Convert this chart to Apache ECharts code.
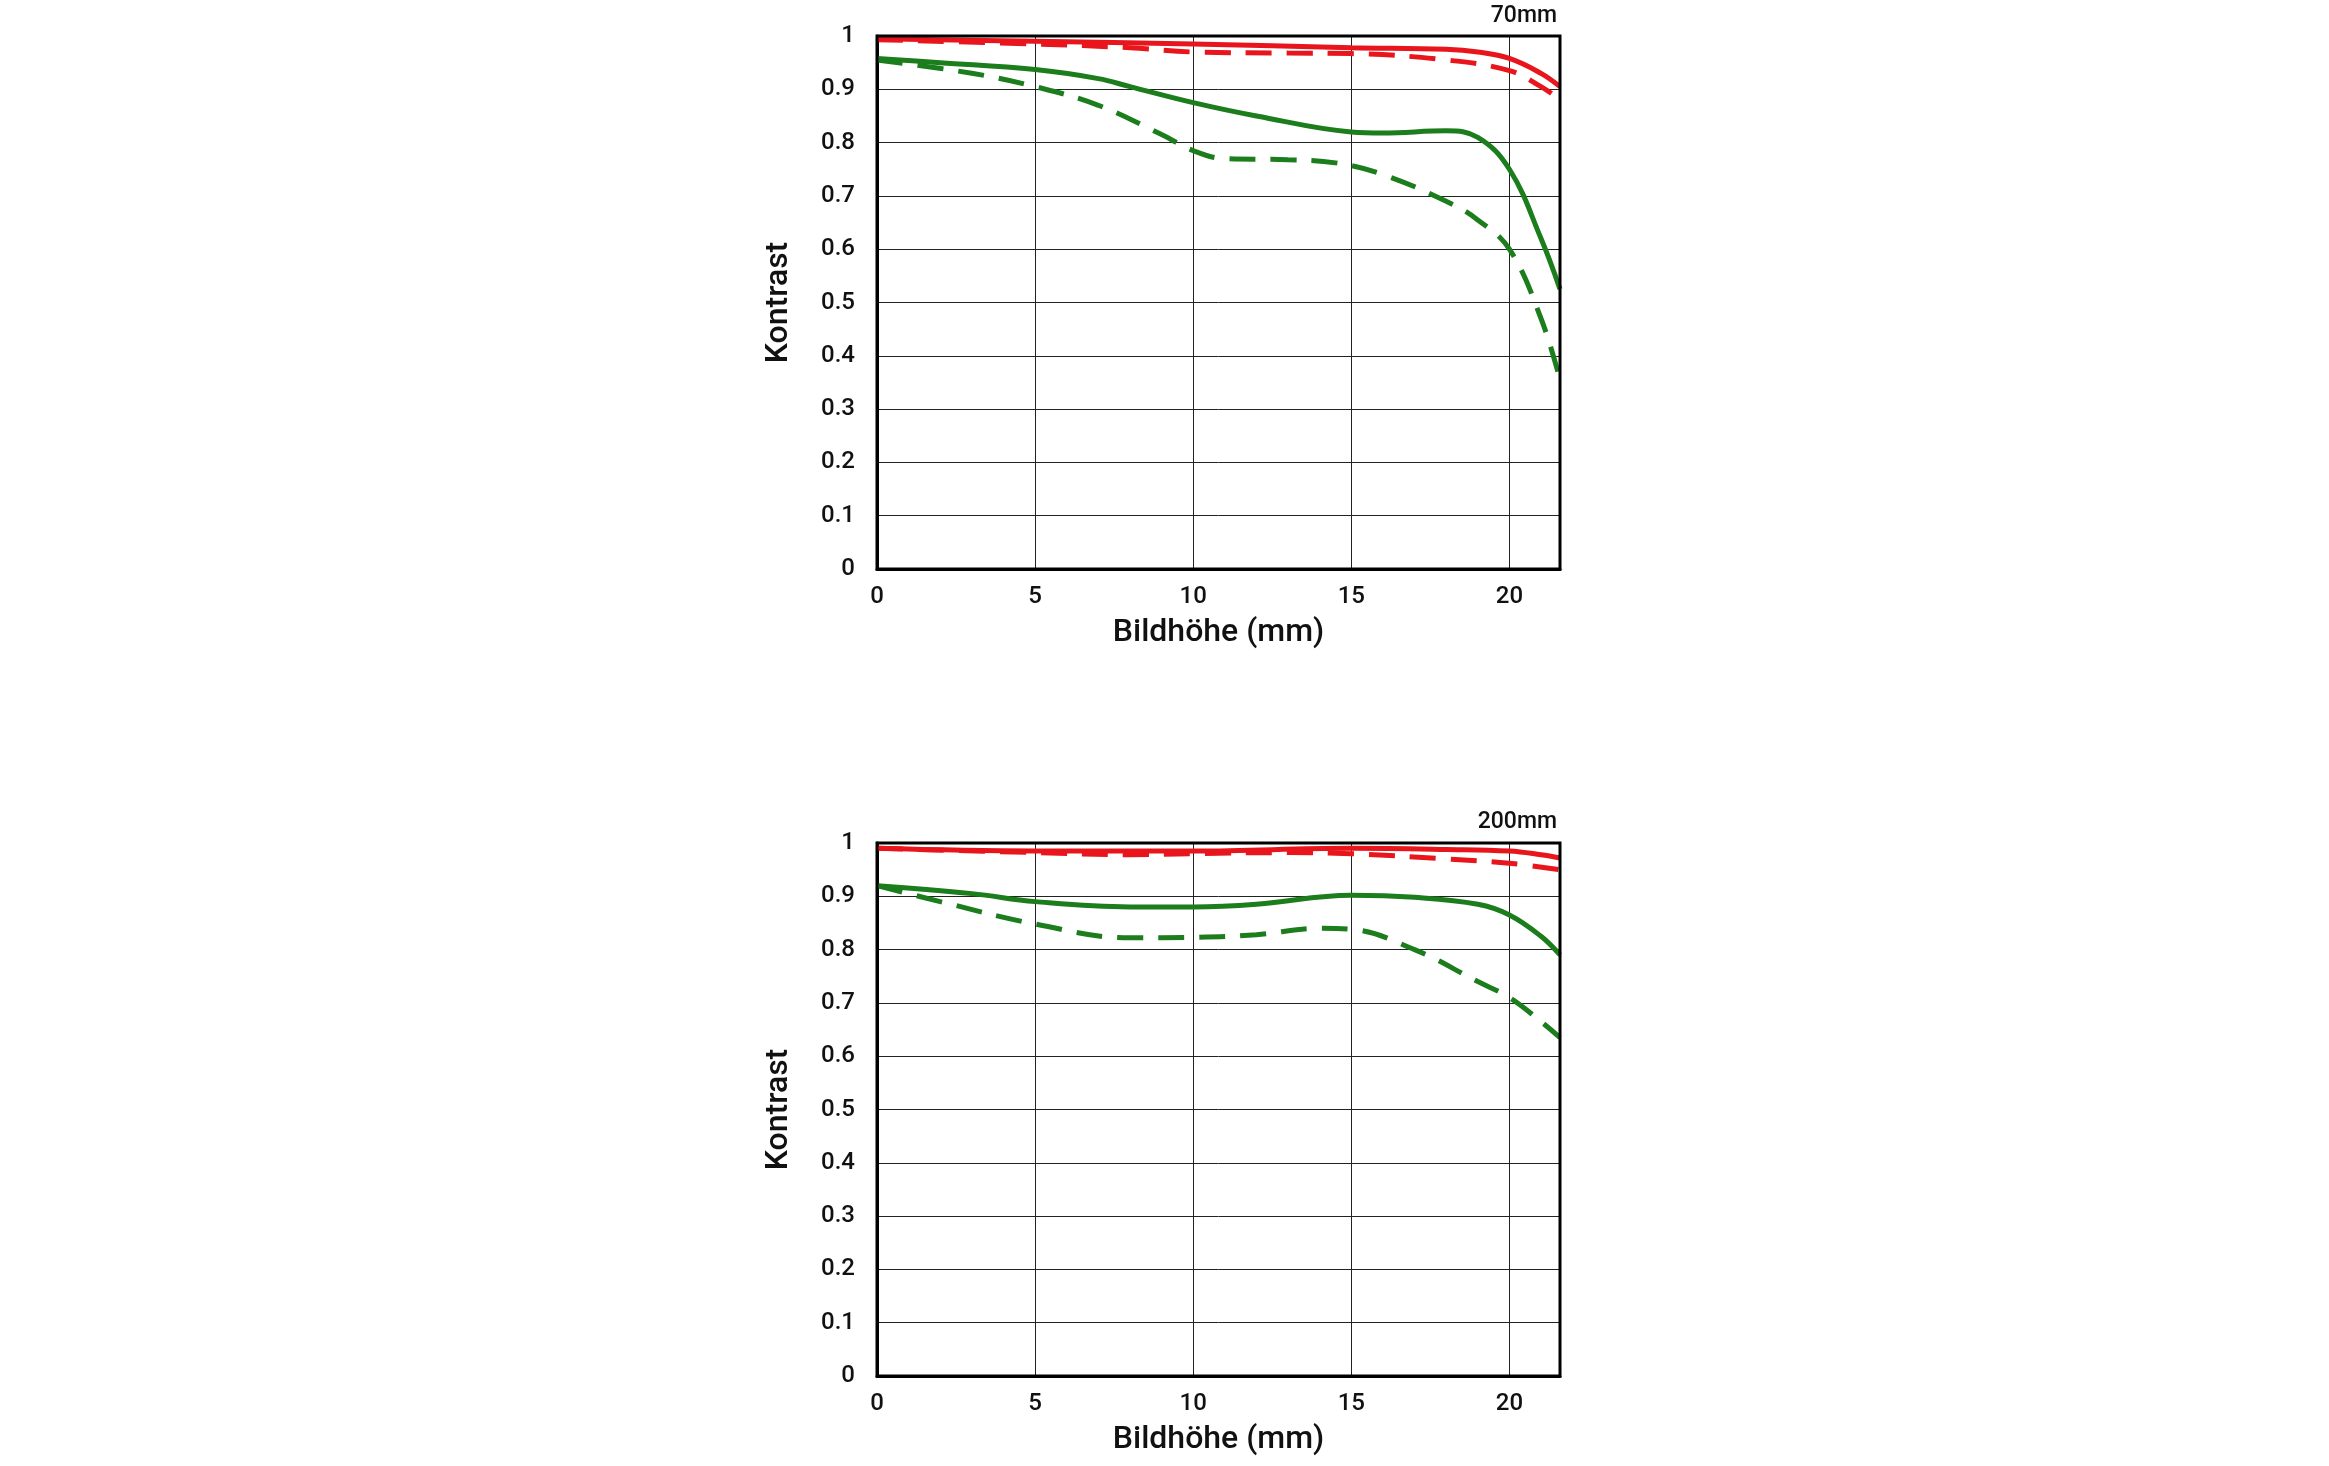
<!DOCTYPE html>
<html><head><meta charset="utf-8">
<script src="https://cdn.jsdelivr.net/npm/echarts@6/dist/echarts.min.js"></script>
<style>html,body{margin:0;padding:0;background:#fff}#c{width:2329px;height:1466px}</style>
</head><body><div id="c"></div>
<script>
const titles = ['70mm', '200mm'];
const yTicks = [0,0.1,0.2,0.3,0.4,0.5,0.6,0.7,0.8,0.9,1];
const xTicks = [0,5,10,15,20];
// 70mm
const r70s = [[0,0.995],[5,0.99],[10,0.985],[15,0.978],[18,0.975],[19,0.97],[20,0.958],[21,0.93],[21.6,0.905]];
const r70d = [[0,0.993],[5,0.985],[8,0.978],[10,0.97],[13,0.968],[15,0.967],[18,0.955],[20,0.935],[21,0.905],[21.6,0.88]];
const g70s = [[0,0.958],[2,0.95],[5,0.937],[7,0.92],[8,0.905],[10,0.875],[12,0.85],[15,0.82],[16,0.818],[18,0.822],[19,0.81],[20,0.75],[21,0.62],[21.6,0.525]];
const g70d = [[0,0.955],[3,0.93],[5,0.905],[7,0.87],[9,0.815],[10,0.785],[11,0.77],[13,0.768],[14.5,0.762],[16,0.74],[18,0.69],[19,0.655],[20,0.6],[21,0.47],[21.6,0.355]];
// 200mm
const r200s = [[0,0.99],[5,0.985],[10,0.985],[15,0.99],[18,0.988],[20,0.985],[21,0.978],[21.6,0.972]];
const r200d = [[0,0.99],[5,0.982],[8,0.978],[10,0.98],[13,0.982],[15,0.98],[18,0.97],[20,0.962],[21.6,0.95]];
const g200s = [[0,0.92],[3,0.905],[5,0.89],[8,0.88],[10,0.88],[12,0.885],[15,0.902],[17,0.898],[19,0.885],[20,0.865],[21,0.825],[21.6,0.79]];
const g200d = [[0,0.92],[2,0.89],[5,0.848],[8,0.822],[10,0.823],[12,0.828],[14,0.84],[15,0.838],[17,0.8],[19,0.74],[20,0.71],[21,0.665],[21.6,0.635]];

const RED='#e8161c', GREEN='#1b7d1b';
const font='Roboto';
const grids=[{left:877,width:683,top:36,height:533},{left:877,width:683,top:843,height:533}];
function xa(i){return {gridIndex:i,type:'value',min:0,max:21.6,interval:5,
  name:'Bildhöhe (mm)',nameLocation:'middle',nameGap:48,nameTextStyle:{fontSize:32,color:'#111',fontFamily:font,fontWeight:500},
  axisLine:{lineStyle:{color:'#000',width:3}},axisTick:{show:false},
  axisLabel:{fontSize:24,color:'#111',fontFamily:font,fontWeight:500,margin:16,showMaxLabel:false,formatter:v=>xTicks.includes(v)?String(v):''},
  splitLine:{show:true,lineStyle:{color:'#222',width:1}}};}
function ya(i){return {gridIndex:i,type:'value',min:0,max:1,interval:0.1,
  name:'Kontrast',nameLocation:'middle',nameGap:82,nameRotate:90,nameTextStyle:{fontSize:32,color:'#111',fontFamily:font,fontWeight:500},
  axisLine:{lineStyle:{color:'#000',width:3}},axisTick:{show:false},
  axisLabel:{fontSize:24,color:'#111',fontFamily:font,fontWeight:500,margin:22,formatter:v=>{const t=yTicks.find(k=>Math.abs(k-v)<1e-6);return t===undefined?'':String(t);}},
  splitLine:{show:true,lineStyle:{color:'#222',width:1}}};}
function s(i,data,color,dashed){return {type:'line',xAxisIndex:i,yAxisIndex:i,data:data,smooth:0.4,symbol:'none',
  lineStyle:{color:color,width:5,type:dashed?[26,15]:'solid'},z:dashed?3:4};}
const chart=echarts.init(document.getElementById('c'));
chart.setOption({
  animation:false,backgroundColor:'#fff',
  title:titles.map((t,i)=>({text:t,right:2329-1562,top:i===0?0:806,textStyle:{fontSize:23,fontWeight:500,color:'#111',fontFamily:font}})),
  grid:grids,
  xAxis:[xa(0),xa(1)],yAxis:[ya(0),ya(1)],
  graphic:grids.map(g=>({type:'rect',shape:{x:g.left,y:g.top,width:g.width,height:g.height},style:{fill:'none',stroke:'#000',lineWidth:3},z:10})),
  series:[s(0,r70d,RED,true),s(0,r70s,RED,false),s(0,g70d,GREEN,true),s(0,g70s,GREEN,false),
          s(1,r200d,RED,true),s(1,r200s,RED,false),s(1,g200d,GREEN,true),s(1,g200s,GREEN,false)]
});
</script></body></html>
